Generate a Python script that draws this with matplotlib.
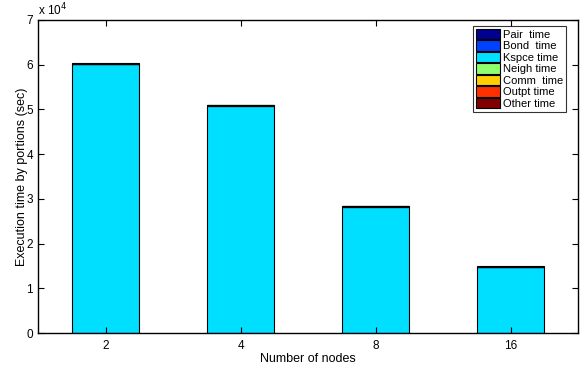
import numpy as np
import matplotlib.pyplot as plt

plt.rcParams['font.family'] = ['Liberation Sans', 'DejaVu Sans']

nodes = ['2', '4', '8', '16']
portions = ['Pair  time', 'Bond  time', 'Kspce time', 'Neigh time',
            'Comm  time', 'Outpt time', 'Other time']
pair_t = [60, 50, 40, 30]
bond_t = [0, 0, 0, 0]
kspce_t = [60000, 50700, 28200, 14700]
neigh_t = [20, 15, 10, 8]
comm_t = [150, 150, 120, 100]
outpt_t = [5, 5, 5, 5]
other_t = [40, 40, 30, 30]
colors = ['#00008f', '#0040ff', '#00dfff', '#8fff70', '#ffcf00', '#ff3000', '#800000']

series = [pair_t, bond_t, kspce_t, neigh_t, comm_t, outpt_t, other_t]

fig = plt.figure(figsize=(5.86, 3.66), dpi=100)
ax = fig.add_axes([38 / 586, 1 - 333 / 366, 540 / 586, 313 / 366])

x = np.arange(1, len(nodes) + 1)
bottom = np.zeros(len(nodes))
for name, vals, c in zip(portions, series, colors):
    ax.bar(x, vals, width=0.5, bottom=bottom, color=c, edgecolor='black',
           linewidth=0.8, label=name)
    bottom += np.array(vals)

ax.set_xlim(0.5, 4.5)
ax.set_ylim(0, 70000)
ax.set_xticks(x)
ax.set_xticklabels(nodes)
ax.set_yticks(np.arange(0, 70001, 10000))
ax.set_yticklabels([str(i) for i in range(8)])
ax.text(0, 1.005, r'x 10$^{4}$', transform=ax.transAxes, fontsize=8.5, va='bottom')
ax.tick_params(direction='in', top=True, right=True, labelsize=8.5, length=4)
ax.tick_params(axis='x', pad=5)
ax.set_xlabel('Number of nodes', fontsize=9, labelpad=1)
ax.set_ylabel('Execution time by portions (sec)', fontsize=9, labelpad=-1)
for s in ax.spines.values():
    s.set_linewidth(1.0)

leg = ax.legend(loc='upper right', bbox_to_anchor=(528 / 540, 307 / 313),
                fontsize=8, frameon=True, fancybox=False,
                edgecolor='black', handlelength=2.2, handleheight=1.05,
                borderpad=0.25, labelspacing=0.05, handletextpad=0.25,
                borderaxespad=0)
leg.get_frame().set_linewidth(0.8)

fig.savefig('out.png', dpi=100)
